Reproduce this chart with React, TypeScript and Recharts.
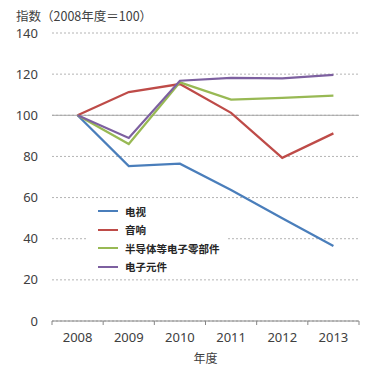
import { LineChart, Line, XAxis, YAxis, CartesianGrid, ReferenceLine } from "recharts";

const years = ["2008", "2009", "2010", "2011", "2012", "2013"];
const tv = [100, 75.3, 76.5, 63.7, 50, 36.5];
const audio = [100, 111.3, 115.2, 101.2, 79.3, 91.2];
const semi = [100, 86, 116, 107.6, 108.5, 109.5];
const parts = [100, 89, 116.8, 118.2, 118, 119.7];
const yTicks = [0, 20, 40, 60, 80, 100, 120, 140];

const seriesNames = ["电视", "音响", "半导体等电子零部件", "电子元件"];
const seriesColors = ["#4a7ebb", "#be4b48", "#98b954", "#7d60a0"];

const data = years.map((y, i) => ({
  year: y,
  s0: tv[i],
  s1: audio[i],
  s2: semi[i],
  s3: parts[i],
}));

const FONT = "'Noto Sans', 'Noto Sans CJK SC', sans-serif";
const BAND = 307 / years.length;

// x tick: label in the band centre, tick mark on the band edges
function XTick(props: any) {
  const { x, y, payload, index } = props;
  const axisY = y - 12;
  return (
    <g>
      <line x1={x - BAND / 2} x2={x - BAND / 2} y1={axisY} y2={axisY + 4} stroke="#868686" />
      {index === years.length - 1 && (
        <line x1={x + BAND / 2} x2={x + BAND / 2} y1={axisY} y2={axisY + 4} stroke="#868686" />
      )}
      <text x={x} y={y} dy="0.71em" textAnchor="middle" fill="#404040" fontSize={13} fontFamily={FONT}>
        {payload.value}
      </text>
    </g>
  );
}

function LegendBox() {
  return (
    <div
      style={{
        position: "absolute",
        left: 86,
        top: 201,
        width: 142,
        boxSizing: "border-box",
        background: "#fff",
        padding: "1px 0 3px 12px",
        fontFamily: "'Noto Sans CJK SC', sans-serif",
        whiteSpace: "nowrap",
      }}
    >
      {seriesNames.map((n, i) => (
        <div key={n} style={{ display: "flex", alignItems: "center", height: 18.5 }}>
          <div style={{ width: 20, height: 2, background: seriesColors[i], marginRight: 7 }} />
          <span style={{ fontSize: 10.5, fontWeight: 700, color: "#262626" }}>{n}</span>
        </div>
      ))}
    </div>
  );
}

export default function App() {
  return (
    <div style={{ position: "absolute", left: 0, top: 0, width: 379, height: 369, background: "#fff" }}>
      <LineChart width={379} height={369} data={data} margin={{ top: 33, right: 20, bottom: 18, left: 0 }}>
        <CartesianGrid vertical={false} stroke="#b4b4b4" strokeDasharray="2 2" />
        <XAxis
          dataKey="year"
          scale="band"
          axisLine={{ stroke: "#868686" }}
          tickLine={false}
          tickSize={6}
          tickMargin={6}
          height={30}
          tick={<XTick />}
          interval={0}
          label={{ value: "年度", position: "insideBottom", offset: -12, fill: "#404040", fontSize: 12, fontFamily: "'Noto Sans CJK SC', sans-serif" }}
        />
        <YAxis
          domain={[0, 140]}
          ticks={yTicks}
          width={52}
          axisLine={false}
          tickLine={false}
          tickMargin={8}
          tick={{ fill: "#404040", fontSize: 13, fontFamily: FONT }}
        />
        <ReferenceLine y={100} stroke="#a6a6a6" strokeWidth={1} />
        {["s0", "s1", "s2", "s3"].map((k, i) => (
          <Line
            key={k}
            dataKey={k}
            name={seriesNames[i]}
            stroke={seriesColors[i]}
            strokeWidth={2.25}
            dot={false}
            isAnimationActive={false}
          />
        ))}
        <text x={16} y={21} fill="#404040" fontSize={12.5} fontFamily="'Noto Sans CJK SC', sans-serif">
          指数（2008年度＝100）
        </text>
      </LineChart>
      <LegendBox />
    </div>
  );
}
